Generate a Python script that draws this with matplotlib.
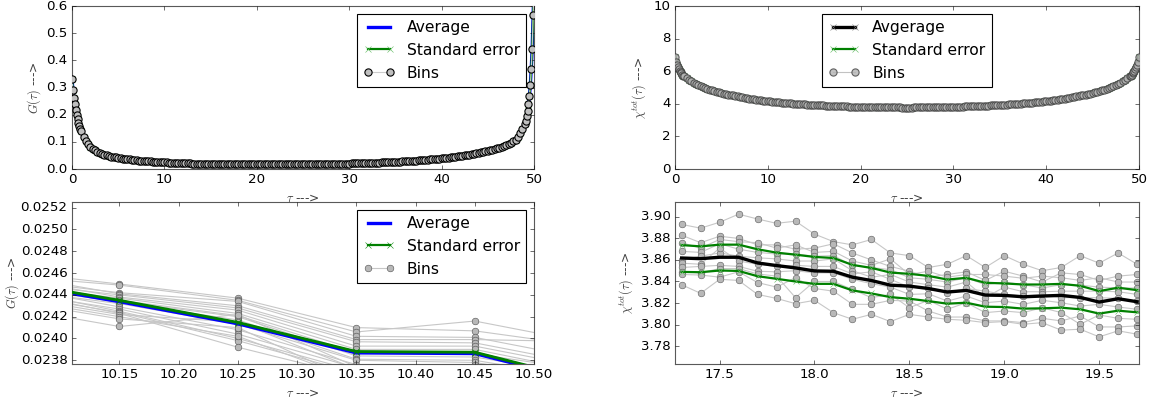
import matplotlib
matplotlib.use("Agg")
import matplotlib.pyplot as plt

# ---------------------------------------------------------------
# full imaginary-time range (top panels)
# ---------------------------------------------------------------
tau_full = [
    0.0, 0.1, 0.2, 0.3, 0.4, 0.5, 0.6, 0.7, 0.8, 0.9, 1.0,
    1.25, 1.5, 1.75, 2.0, 2.25, 2.5, 2.75, 3.0,
    3.25, 3.5, 3.75, 4.0, 4.25, 4.5, 4.75, 5.0,
    5.25, 5.5, 5.75, 6.0, 6.25, 6.5, 6.75, 7.0,
    7.25, 7.5, 7.75, 8.0, 8.25, 8.5, 8.75, 9.0,
    9.25, 9.5, 9.75, 10.0, 10.25, 10.5, 10.75, 11.0,
    11.25, 11.5, 11.75, 12.0, 12.25, 12.5, 12.75, 13.0,
    13.25, 13.5, 13.75, 14.0, 14.25, 14.5, 14.75, 15.0,
    15.25, 15.5, 15.75, 16.0, 16.25, 16.5, 16.75, 17.0,
    17.25, 17.5, 17.75, 18.0, 18.25, 18.5, 18.75, 19.0,
    19.25, 19.5, 19.75, 20.0, 20.25, 20.5, 20.75, 21.0,
    21.25, 21.5, 21.75, 22.0, 22.25, 22.5, 22.75, 23.0,
    23.25, 23.5, 23.75, 24.0, 24.25, 24.5, 24.75, 25.0,
    25.25, 25.5, 25.75, 26.0, 26.25, 26.5, 26.75, 27.0,
    27.25, 27.5, 27.75, 28.0, 28.25, 28.5, 28.75, 29.0,
    29.25, 29.5, 29.75, 30.0, 30.25, 30.5, 30.75, 31.0,
    31.25, 31.5, 31.75, 32.0, 32.25, 32.5, 32.75, 33.0,
    33.25, 33.5, 33.75, 34.0, 34.25, 34.5, 34.75, 35.0,
    35.25, 35.5, 35.75, 36.0, 36.25, 36.5, 36.75, 37.0,
    37.25, 37.5, 37.75, 38.0, 38.25, 38.5, 38.75, 39.0,
    39.25, 39.5, 39.75, 40.0, 40.25, 40.5, 40.75, 41.0,
    41.25, 41.5, 41.75, 42.0, 42.25, 42.5, 42.75, 43.0,
    43.25, 43.5, 43.75, 44.0, 44.25, 44.5, 44.75, 45.0,
    45.25, 45.5, 45.75, 46.0, 46.25, 46.5, 46.75, 47.0,
    47.25, 47.5, 47.75, 48.0, 48.25, 48.5, 48.75,
    49.0, 49.1, 49.2, 49.3, 49.4, 49.5, 49.6, 49.7, 49.8, 49.9, 50.0,
]

g_full = [
    0.332, 0.290, 0.262, 0.240, 0.217, 0.198, 0.183, 0.170, 0.158, 0.148, 0.139,
    0.119, 0.104, 0.092, 0.082, 0.075, 0.069, 0.064, 0.059,
    0.056, 0.053, 0.0505, 0.048, 0.046, 0.044, 0.0425, 0.041,
    0.0395, 0.038, 0.037, 0.036, 0.035, 0.034, 0.033, 0.032,
    0.0312, 0.0305, 0.0298, 0.0291, 0.0285, 0.0279, 0.0273, 0.0268,
    0.0263, 0.0258, 0.0253, 0.0248, 0.0243, 0.0238, 0.0233, 0.0229,
    0.0225, 0.0221, 0.0217, 0.0214, 0.0211, 0.0208, 0.0205, 0.0202,
    0.0199, 0.0197, 0.0195, 0.0193, 0.0191, 0.0189, 0.0187, 0.0186,
    0.0184, 0.0183, 0.0181, 0.0180, 0.0179, 0.0178, 0.0177, 0.0176,
    0.0175, 0.0174, 0.0173, 0.0173, 0.0172, 0.0172, 0.0171, 0.0171,
    0.0170, 0.0170, 0.0170, 0.0170, 0.0169, 0.0169, 0.0169, 0.0169,
    0.0169, 0.0169, 0.0169, 0.0169, 0.0170, 0.0170, 0.0170, 0.0170,
    0.0171, 0.0171, 0.0172, 0.0172, 0.0173, 0.0173, 0.0174, 0.0174,
    0.0175, 0.0176, 0.0177, 0.0178, 0.0179, 0.0180, 0.0181, 0.0182,
    0.0184, 0.0185, 0.0187, 0.0188, 0.0190, 0.0191, 0.0193, 0.0194,
    0.0196, 0.0198, 0.0200, 0.0202, 0.0204, 0.0206, 0.0209, 0.0211,
    0.0214, 0.0216, 0.0219, 0.0221, 0.0224, 0.0227, 0.0230, 0.0233,
    0.0237, 0.0240, 0.0244, 0.0247, 0.0251, 0.0255, 0.0259, 0.0263,
    0.0268, 0.0272, 0.0277, 0.0282, 0.0287, 0.0292, 0.0298, 0.0303,
    0.0309, 0.0315, 0.0321, 0.0328, 0.0335, 0.0342, 0.0350, 0.0357,
    0.0365, 0.0373, 0.0381, 0.0390, 0.0399, 0.0408, 0.0418, 0.0428,
    0.0439, 0.0450, 0.0462, 0.0474, 0.0487, 0.0500, 0.0514, 0.0528,
    0.0543, 0.0558, 0.0574, 0.0591, 0.0609, 0.0627, 0.0647, 0.0667,
    0.0689, 0.0712, 0.0736, 0.0762, 0.0789, 0.0818, 0.0848, 0.0880,
    0.092, 0.097, 0.102, 0.108, 0.118, 0.132, 0.148,
    0.165, 0.178, 0.195, 0.215, 0.240, 0.268, 0.308, 0.367, 0.442, 0.567, 0.668,
]

chi_full = [
    6.90, 6.58, 6.38, 6.23, 6.11, 6.01, 5.93, 5.86, 5.79, 5.73, 5.68,
    5.56, 5.46, 5.37, 5.28, 5.21, 5.14, 5.08, 5.02,
    4.97, 4.92, 4.87, 4.83, 4.79, 4.75, 4.71, 4.67,
    4.63, 4.60, 4.57, 4.54, 4.51, 4.48, 4.45, 4.42,
    4.395, 4.37, 4.345, 4.32, 4.30, 4.28, 4.26, 4.24,
    4.22, 4.20, 4.18, 4.16, 4.145, 4.13, 4.115, 4.10,
    4.085, 4.07, 4.055, 4.04, 4.03, 4.02, 4.01, 4.00,
    3.99, 3.98, 3.97, 3.96, 3.95, 3.94, 3.935, 3.93,
    3.92, 3.91, 3.905, 3.90, 3.895, 3.89, 3.882, 3.875,
    3.868, 3.862, 3.856, 3.850, 3.843, 3.836, 3.831, 3.827,
    3.824, 3.821, 3.818, 3.815, 3.812, 3.810, 3.805, 3.800,
    3.797, 3.795, 3.792, 3.790, 3.787, 3.785, 3.782, 3.780,
    3.779, 3.778, 3.776, 3.775, 3.774, 3.773, 3.772, 3.772,
    3.772, 3.773, 3.774, 3.775, 3.776, 3.778, 3.779, 3.780,
    3.782, 3.785, 3.787, 3.790, 3.792, 3.795, 3.797, 3.800,
    3.803, 3.806, 3.810, 3.813, 3.817, 3.820, 3.825, 3.830,
    3.835, 3.840, 3.845, 3.850, 3.855, 3.860, 3.867, 3.875,
    3.882, 3.890, 3.895, 3.900, 3.905, 3.910, 3.920, 3.930,
    3.935, 3.94, 3.95, 3.96, 3.97, 3.98, 3.99, 4.00,
    4.01, 4.02, 4.03, 4.04, 4.055, 4.07, 4.085, 4.10,
    4.115, 4.13, 4.145, 4.16, 4.18, 4.20, 4.22, 4.24,
    4.26, 4.28, 4.30, 4.32, 4.345, 4.37, 4.395, 4.42,
    4.45, 4.48, 4.51, 4.54, 4.57, 4.60, 4.63, 4.67,
    4.71, 4.75, 4.79, 4.83, 4.87, 4.92, 4.97, 5.02,
    5.08, 5.14, 5.21, 5.28, 5.37, 5.46, 5.56,
    5.68, 5.73, 5.79, 5.86, 5.93, 6.01, 6.11, 6.23, 6.38, 6.58, 6.90,
]

# ---------------------------------------------------------------
# zoom on G(tau) around tau = 10.3 (20 bins)
# ---------------------------------------------------------------
tau_g = [10.05, 10.15, 10.25, 10.35, 10.45, 10.55]
g_avg = [0.024523, 0.024338, 0.024135, 0.023868, 0.023862, 0.023588]
g_err_hi = [0.024538, 0.024353, 0.024150, 0.023883, 0.023877, 0.023603]
g_err_lo = [0.024532, 0.024347, 0.024144, 0.023877, 0.023871, 0.023597]
g_bins = [
    [0.02462, 0.02450, 0.02437, 0.02410, 0.02407, 0.02392],
    [0.02458, 0.02449, 0.02435, 0.02406, 0.02416, 0.02395],
    [0.02455, 0.02442, 0.02434, 0.02402, 0.02401, 0.02380],
    [0.02460, 0.02441, 0.02430, 0.02399, 0.02399, 0.02397],
    [0.02452, 0.02440, 0.02428, 0.02397, 0.02396, 0.02375],
    [0.02457, 0.02438, 0.02426, 0.02393, 0.02393, 0.02372],
    [0.02450, 0.02437, 0.02423, 0.02390, 0.02390, 0.02368],
    [0.02454, 0.02435, 0.02421, 0.02387, 0.02386, 0.02370],
    [0.02448, 0.02434, 0.02420, 0.02384, 0.02383, 0.02365],
    [0.02451, 0.02433, 0.02417, 0.02381, 0.02380, 0.02362],
    [0.02446, 0.02432, 0.02413, 0.02380, 0.02378, 0.02360],
    [0.02449, 0.02429, 0.02408, 0.02376, 0.02376, 0.02358],
    [0.02444, 0.02427, 0.02404, 0.02373, 0.02374, 0.02355],
    [0.02447, 0.02425, 0.02400, 0.02370, 0.02372, 0.02352],
    [0.02442, 0.02424, 0.02398, 0.02368, 0.02370, 0.02350],
    [0.02445, 0.02423, 0.02392, 0.02365, 0.02368, 0.02348],
    [0.02440, 0.02422, 0.02415, 0.02372, 0.02366, 0.02345],
    [0.02438, 0.02420, 0.02402, 0.02362, 0.02364, 0.02343],
    [0.02436, 0.02418, 0.02410, 0.02360, 0.02362, 0.02340],
    [0.02430, 0.02411, 0.02422, 0.02374, 0.02369, 0.02338],
]

# ---------------------------------------------------------------
# zoom on chi_tot(tau) between 17.3 and 19.7 (10 bins)
# ---------------------------------------------------------------
tau_chi = [17.3, 17.4, 17.5, 17.6, 17.7, 17.8, 17.9, 18.0, 18.1, 18.2, 18.3, 18.4, 18.5,
           18.6, 18.7, 18.8, 18.9, 19.0, 19.1, 19.2, 19.3, 19.4, 19.5, 19.6, 19.7]
chi_avg = [3.8618, 3.8612, 3.8625, 3.8625, 3.8572, 3.8548, 3.8526, 3.8498, 3.8495,
           3.8440, 3.8409, 3.8366, 3.8357, 3.8335, 3.8302, 3.8317, 3.8274, 3.8271,
           3.8258, 3.8265, 3.8271, 3.8252, 3.8209, 3.8240, 3.8212]
chi_err_hi = [3.8738, 3.8726, 3.8742, 3.8742, 3.8699, 3.8668, 3.8649, 3.8628, 3.8618,
              3.8554, 3.8526, 3.8483, 3.8471, 3.8452, 3.8418, 3.8434, 3.8388, 3.8382,
              3.8372, 3.8372, 3.8378, 3.8360, 3.8311, 3.8342, 3.8320]
chi_err_lo = [3.8489, 3.8486, 3.8502, 3.8498, 3.8449, 3.8425, 3.8400, 3.8378, 3.8378,
              3.8317, 3.8289, 3.8255, 3.8240, 3.8218, 3.8194, 3.8203, 3.8166, 3.8163,
              3.8148, 3.8151, 3.8157, 3.8142, 3.8102, 3.8129, 3.8114]
chi_bins = [
    [3.893, 3.8895, 3.895, 3.9025, 3.898, 3.894, 3.896, 3.884, 3.877, 3.874, 3.879, 3.8665, 3.864,
     3.853, 3.856, 3.864, 3.853, 3.864, 3.856, 3.850, 3.853, 3.864, 3.857, 3.8665, 3.856],
    [3.883, 3.876, 3.882, 3.880, 3.874, 3.874, 3.870, 3.871, 3.875, 3.8665, 3.860, 3.854, 3.8495,
     3.844, 3.8465, 3.849, 3.841, 3.8495, 3.845, 3.8395, 3.848, 3.8465, 3.841, 3.845, 3.8465],
    [3.876, 3.871, 3.879, 3.877, 3.876, 3.871, 3.874, 3.867, 3.868, 3.859, 3.855, 3.861, 3.8465,
     3.8495, 3.844, 3.8465, 3.8465, 3.845, 3.843, 3.845, 3.8435, 3.841, 3.8435, 3.8395, 3.8395],
    [3.868, 3.867, 3.875, 3.870, 3.867, 3.8655, 3.8655, 3.8635, 3.864, 3.855, 3.853, 3.851, 3.8435,
     3.842, 3.8395, 3.8435, 3.837, 3.8395, 3.837, 3.834, 3.837, 3.8366, 3.8348, 3.834, 3.834],
    [3.860, 3.8635, 3.8665, 3.8635, 3.862, 3.861, 3.859, 3.859, 3.861, 3.850, 3.844, 3.8465, 3.8395,
     3.837, 3.8348, 3.8395, 3.825, 3.8348, 3.8305, 3.8305, 3.831, 3.831, 3.831, 3.8305, 3.828],
    [3.857, 3.856, 3.871, 3.859, 3.856, 3.854, 3.855, 3.854, 3.854, 3.847, 3.849, 3.842, 3.8348,
     3.8335, 3.8295, 3.8335, 3.831, 3.828, 3.8265, 3.828, 3.825, 3.825, 3.825, 3.8243, 3.8218],
    [3.853, 3.854, 3.855, 3.854, 3.8495, 3.849, 3.850, 3.848, 3.848, 3.842, 3.838, 3.8348, 3.828,
     3.8286, 3.8218, 3.8265, 3.8203, 3.8218, 3.8188, 3.8225, 3.8203, 3.8172, 3.8188, 3.8163, 3.8142],
    [3.849, 3.848, 3.852, 3.852, 3.847, 3.845, 3.825, 3.840, 3.840, 3.8326, 3.825, 3.828, 3.8157,
     3.8225, 3.8142, 3.8203, 3.8111, 3.8126, 3.8111, 3.8157, 3.8111, 3.8003, 3.8089, 3.8058, 3.8049],
    [3.8465, 3.846, 3.844, 3.849, 3.839, 3.8348, 3.8435, 3.8335, 3.831, 3.8188, 3.8188, 3.8225, 3.8218,
     3.8126, 3.807, 3.807, 3.8034, 3.8034, 3.8018, 3.8058, 3.8034, 3.808, 3.7978, 3.7978, 3.7988],
    [3.837, 3.829, 3.842, 3.841, 3.828, 3.8243, 3.8194, 3.8225, 3.811, 3.8049, 3.8095, 3.8028, 3.8095,
     3.807, 3.8049, 3.804, 3.8018, 3.8028, 3.8003, 3.8018, 3.7948, 3.7957, 3.7886, 3.7942, 3.7911],
]

# tick labels
ticks_full_x = [0, 10, 20, 30, 40, 50]
ticks_g_full_y = [0.0, 0.1, 0.2, 0.3, 0.4, 0.5, 0.6]
ticks_chi_full_y = [0, 2, 4, 6, 8, 10]
ticks_g_x = [10.15, 10.20, 10.25, 10.30, 10.35, 10.40, 10.45, 10.50]
ticks_g_y = [0.0238, 0.0240, 0.0242, 0.0244, 0.0246, 0.0248, 0.0250, 0.0252]
ticks_chi_x = [17.5, 18.0, 18.5, 19.0, 19.5]
ticks_chi_y = [3.78, 3.80, 3.82, 3.84, 3.86, 3.88, 3.90]


plt.style.use("classic")
plt.rcParams["figure.facecolor"] = "white"
plt.rcParams["savefig.facecolor"] = "white"

W, H = 1157, 404
fig = plt.figure(figsize=(W / 80.0, H / 80.0), dpi=80)

left_l, width_l = 72 / W, 462 / W
left_r, width_r = 675 / W, 464 / W
bot_top, h_top = (H - 169) / H, 163 / H
bot_bot, h_bot = (H - 364) / H, 162 / H

ax1 = fig.add_axes([left_l, bot_top, width_l, h_top])
ax2 = fig.add_axes([left_r, bot_top, width_r, h_top])
ax3 = fig.add_axes([left_l, bot_bot, width_l, h_bot])
ax4 = fig.add_axes([left_r, bot_bot, width_r, h_bot])

GREEN = (0.0, 0.5, 0.0)
GREEN_X = (0.35, 0.72, 0.35)


def finish(ax, xlim, ylim, xticks, yticks, ylabel, ypad=5):
    ax.set_xlim(xlim)
    ax.set_ylim(ylim)
    ax.set_xticks(xticks)
    ax.set_yticks(yticks)
    ax.yaxis.get_major_formatter().set_useOffset(False)
    ax.xaxis.get_major_formatter().set_useOffset(False)
    ax.set_xlabel(r"$\tau$ --->", fontsize=11, color="0.25")
    ax.set_ylabel(ylabel, fontsize=11, color="0.25", labelpad=ypad)
    for sp in ax.spines.values():
        sp.set_color("0.35")


# --- top left: G(tau), full range
ax1.plot(tau_full, g_full, color="b", lw=3, label="Average", zorder=2)
ax1.plot(tau_full, g_full, color=GREEN, lw=2, marker="x", mec=GREEN_X, ms=5,
         label="Standard error", zorder=2)
ax1.plot(tau_full, g_full, color="0.8", lw=1, marker="o", mfc="0.75", mec="k",
         mew=1.0, ms=6.5, label="Bins", zorder=3)
ax1.legend(loc="upper right", fontsize=14)
finish(ax1, (0, 50), (0, 0.6), ticks_full_x, ticks_g_full_y, r"$G(\tau)$ --->", ypad=3)

# --- top right: chi_tot(tau), full range
ax2.plot(tau_full, chi_full, color="k", lw=3, marker="x", mec="0.45", ms=5,
         label="Avgerage", zorder=2)
ax2.plot(tau_full, chi_full, color=GREEN, lw=2, marker="x", mec=GREEN_X, ms=5,
         label="Standard error", zorder=2)
ax2.plot(tau_full, chi_full, color="0.7", lw=1, marker="o", mfc="0.7", mec="0.25",
         mew=1.0, ms=6.5, alpha=0.8, label="Bins", zorder=3)
ax2.legend(loc="upper center", fontsize=14)
finish(ax2, (0, 50), (0, 10), ticks_full_x, ticks_chi_full_y,
       r"$\chi^{tot}(\tau)$ --->")

# --- bottom left: G(tau) zoom with bins
h_bins = None
for row in g_bins:
    (h_bins,) = ax3.plot(tau_g, row, color="0.78", lw=1, marker="o", mfc="0.72",
                         mec="0.3", ms=6, zorder=1)
(h_avg,) = ax3.plot(tau_g, g_avg, color="b", lw=3, zorder=2)
(h_err,) = ax3.plot(tau_g, g_err_hi, color=GREEN, lw=2, marker="x", mec=GREEN, ms=5,
                    zorder=3)
ax3.plot(tau_g, g_err_lo, color=GREEN, lw=2, marker="x", mec=GREEN, ms=5, zorder=3)
ax3.legend([h_avg, h_err, h_bins], ["Average", "Standard error", "Bins"],
           loc="upper right", fontsize=14)
finish(ax3, (10.11, 10.50), (0.023766, 0.025252), ticks_g_x, ticks_g_y,
       r"$G(\tau)$ --->", ypad=0)

# --- bottom right: chi_tot(tau) zoom with bins
for row in chi_bins:
    ax4.plot(tau_chi, row, color="0.78", lw=1, marker="o", mfc="0.72", mec="0.35",
             ms=6, zorder=1)
ax4.plot(tau_chi, chi_avg, color="k", lw=3, zorder=2)
ax4.plot(tau_chi, chi_err_hi, color=GREEN, lw=2, marker="x", mec=GREEN_X, ms=5, zorder=3)
ax4.plot(tau_chi, chi_err_lo, color=GREEN, lw=2, marker="x", mec=GREEN_X, ms=5, zorder=3)
finish(ax4, (17.265, 19.71), (3.7634, 3.9138), ticks_chi_x, ticks_chi_y,
       r"$\chi^{tot}(\tau)$ --->")

fig.savefig("out.png", dpi=80)
